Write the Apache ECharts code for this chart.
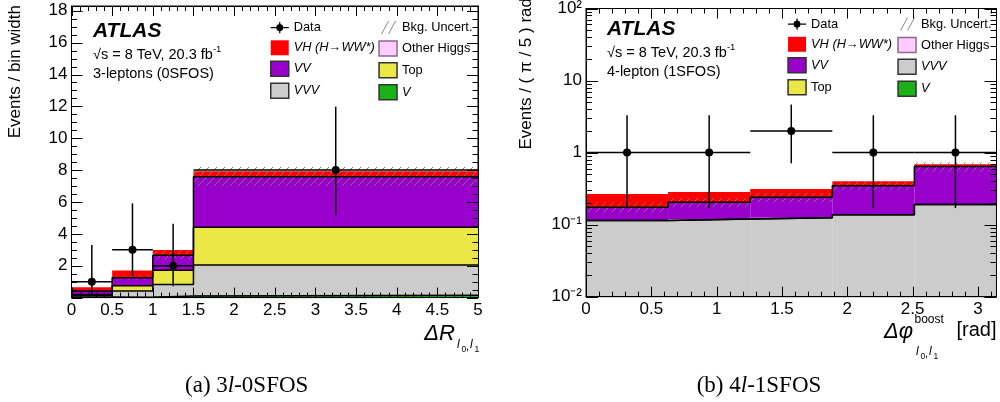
<!DOCTYPE html>
<html><head><meta charset="utf-8">
<script src="https://cdn.jsdelivr.net/npm/echarts@6/dist/echarts.min.js"></script>
<style>html,body{margin:0;padding:0;background:#fff}#c{width:1000px;height:402px}</style>
</head><body><div id="c"></div>
<script>
// ---------- Panel (a): 3l-0SFOS, Events / bin width vs ΔR ----------
const binEdgesA = [0, 0.5, 1, 1.5, 5];
const dataA   = [1, 3, 2, 8];
const dataLoA = [0.17, 1.37, 0.71, 5.18];
const dataHiA = [3.3, 5.92, 4.64, 11.98];
const vA          = [0.03, 0.02, 0.10, 0.15];
const vvvA        = [0.10, 0.39, 0.72, 1.90];
const topA        = [0.07, 0.33, 0.90, 2.36];
const vvA         = [0.22, 0.50, 0.93, 3.17];
const otherHiggsA = [0.01, 0.01, 0.01, 0.02];
const vhA         = [0.22, 0.45, 0.32, 0.33];
const uncA        = [0.05, 0.12, 0.25, 0.60];
const yTicksA = [2, 4, 6, 8, 10, 12, 14, 16, 18];
const xTicksA = [0, 0.5, 1, 1.5, 2, 2.5, 3, 3.5, 4, 4.5, 5];

// ---------- Panel (b): 4l-1SFOS, Events / (π/5) rad vs Δφ ----------
const binEdgesB = [0, 0.628, 1.257, 1.885, 2.513, 3.142];
const dataB   = [1, 1, 2, 1, 1];
const dataLoB = [0.17, 0.17, 0.71, 0.17, 0.17];
const dataHiB = [3.3, 3.3, 4.64, 3.3, 3.3];
const vB          = [0, 0, 0, 0, 0];
const vvvB        = [0.114, 0.120, 0.125, 0.137, 0.190];
const topB        = [0, 0, 0, 0, 0];
const vvB         = [0.060, 0.084, 0.115, 0.210, 0.450];
const otherHiggsB = [0, 0, 0, 0, 0];
const vhB         = [0.093, 0.080, 0.073, 0.053, 0.050];
const uncB        = [0.027, 0.030, 0.036, 0.045, 0.090];
const xTicksB = [0, 0.5, 1, 1.5, 2, 2.5, 3];
const yTicksB = [0.01, 0.1, 1, 10, 100];
const yTickLabelsB = { '-2': '10\u207B\u00B2', '-1': '10\u207B\u00B9', '0': '1', '1': '10', '2': '10\u00B2' };

const COL = {
  V: '#19b219', VVV: '#cccccc', Top: '#ebe845', VV: '#9900cc',
  OH: '#ffccff', VH: '#ff0000'
};
const NAMES = {
  V: 'V', VVV: 'VVV', Top: 'Top', VV: 'VV', OH: 'Other Higgs',
  VH: 'VH (H\u2192WW*)', Data: 'Data', Unc: 'Bkg. Uncert.'
};
const FONT = '"Liberation Sans", Arial, Helvetica, sans-serif';

function buildLayers(edges, comps, base) {
  const n = edges.length - 1;
  const cum = new Array(n).fill(0);
  return comps.map(vals => {
    const items = [];
    for (let i = 0; i < n; i++) {
      const lo = cum[i];
      cum[i] += vals[i];
      if (cum[i] > lo) items.push([edges[i], edges[i + 1], Math.max(lo, base), cum[i]]);
    }
    return { items: items, tops: cum.slice() };
  });
}

function rectItem(params, api) {
  const a = api.coord([api.value(0), api.value(3)]);
  const b = api.coord([api.value(1), api.value(2)]);
  return { type: 'rect', shape: { x: a[0], y: a[1], width: b[0] - a[0], height: b[1] - a[1] },
           style: { fill: api.visual('color') } };
}

function hatchItem(params, api) {
  const a = api.coord([api.value(0), api.value(3)]);
  const b = api.coord([api.value(1), api.value(2)]);
  const x0 = a[0], x1 = b[0], y0 = a[1], y1 = b[1];
  const step = 8, children = [];
  for (let c = Math.ceil((x0 + y0) / step) * step; c <= x1 + y1; c += step) {
    const xa = Math.max(x0, c - y1), xb = Math.min(x1, c - y0);
    if (xb > xa) children.push({ type: 'line', shape: { x1: xa, y1: c - xa, x2: xb, y2: c - xb },
                                  style: { stroke: '#7a7a7a', lineWidth: 1 } });
  }
  return { type: 'group', children: children };
}

function dataItem(params, api) {
  const c = api.coord([api.value(0), api.value(3)]);
  const l = api.coord([api.value(1), api.value(3)]);
  const r = api.coord([api.value(2), api.value(3)]);
  const lo = api.coord([api.value(0), api.value(4)]);
  const hi = api.coord([api.value(0), api.value(5)]);
  const st = { stroke: '#000', lineWidth: 1.5 };
  return { type: 'group', children: [
    { type: 'line', shape: { x1: l[0], y1: l[1], x2: r[0], y2: r[1] }, style: st },
    { type: 'line', shape: { x1: lo[0], y1: lo[1], x2: hi[0], y2: hi[1] }, style: st },
    { type: 'circle', shape: { cx: c[0], cy: c[1], r: 4 }, style: { fill: '#000' } }
  ] };
}

// ----- frame ticks (all four sides), drawn through the axes' scales -----
function linMinor(min, max, step, majors) {
  const out = [];
  for (let k = Math.ceil(min / step - 1e-9); k * step <= max + 1e-9; k++) {
    const v = Math.round(k * step * 1000) / 1000;
    if (!majors.some(m => Math.abs(m - v) < 1e-9)) out.push(v);
  }
  return out;
}
function logMinor(decades) {
  const out = [];
  for (let i = 0; i < decades.length - 1; i++) for (let k = 2; k <= 9; k++) out.push(decades[i] * k);
  return out;
}
function tickItem(params, api) {
  const a = api.coord([api.value(0), api.value(2)]);   // (x0, y0): bottom / left end
  const b = api.coord([api.value(1), api.value(3)]);   // (x1, y1): top / right end
  const major = api.value(4) === 1, isY = api.value(5) === 1;
  const st = { stroke: '#000', lineWidth: 1 };
  const L = isY ? (major ? api.value(6) : api.value(7)) : (major ? api.value(6) : api.value(7));
  if (!isY) {
    const x = Math.round(a[0]) + 0.5;
    return { type: 'group', children: [
      { type: 'line', shape: { x1: x, y1: a[1], x2: x, y2: a[1] - L }, style: st },
      { type: 'line', shape: { x1: x, y1: b[1], x2: x, y2: b[1] + L }, style: st } ] };
  }
  const y = Math.round(a[1]) + 0.5;
  return { type: 'group', children: [
    { type: 'line', shape: { x1: a[0], y1: y, x2: a[0] + L, y2: y }, style: st },
    { type: 'line', shape: { x1: b[0], y1: y, x2: b[0] - L, y2: y }, style: st } ] };
}
function tickSeries(xi, yi, xMin, xMax, yMin, yMax, xMajor, xMinor, yMajor, yMinor, lenX, lenY) {
  const items = [];
  xMajor.forEach(v => items.push([v, v, yMin, yMax, 1, 0, lenX[0], lenX[1]]));
  xMinor.forEach(v => items.push([v, v, yMin, yMax, 0, 0, lenX[0], lenX[1]]));
  yMajor.forEach(v => items.push([xMin, xMax, v, v, 1, 1, lenY[0], lenY[1]]));
  yMinor.forEach(v => items.push([xMin, xMax, v, v, 0, 1, lenY[0], lenY[1]]));
  return { type: 'custom', xAxisIndex: xi, yAxisIndex: yi, renderItem: tickItem,
    itemStyle: { color: '#000' }, data: items, encode: { x: [0, 1], y: [2, 3] }, z: 8, silent: true };
}

function panelSeries(edges, comps, unc, data, lo, hi, base, xi, yi) {
  const keys = ['V', 'VVV', 'Top', 'VV', 'OH', 'VH'];
  const layers = buildLayers(edges, comps, base);
  const n = edges.length - 1;
  const out = [];
  layers.forEach((L, k) => {
    out.push({ type: 'custom', name: NAMES[keys[k]], xAxisIndex: xi, yAxisIndex: yi,
      renderItem: rectItem, itemStyle: { color: COL[keys[k]] }, data: L.items,
      encode: { x: [0, 1], y: [2, 3] }, z: 2, silent: true });
  });
  const bkg = layers[4].tops;
  const uncItems = [];
  for (let i = 0; i < n; i++) uncItems.push([edges[i], edges[i + 1], bkg[i] - unc[i], bkg[i] + unc[i]]);
  out.push({ type: 'custom', name: NAMES.Unc, xAxisIndex: xi, yAxisIndex: yi, renderItem: hatchItem,
    itemStyle: { color: '#7a7a7a' }, data: uncItems, encode: { x: [0, 1], y: [2, 3] }, z: 3, silent: true });
  [0, 1, 2, 3].forEach(k => {
    const tops = layers[k].tops;
    if (tops.every(t => t <= base)) return;
    const pts = edges.map((e, i) => [e, Math.max(tops[Math.min(i, n - 1)], base)]);
    out.push({ type: 'line', step: 'end', xAxisIndex: xi, yAxisIndex: yi, data: pts, symbol: 'none',
      lineStyle: { color: '#000', width: 1.5 }, z: 4, silent: true });
  });
  const pts = [];
  for (let i = 0; i < n; i++) pts.push([(edges[i] + edges[i + 1]) / 2, edges[i], edges[i + 1], data[i], lo[i], hi[i]]);
  out.push({ type: 'custom', name: NAMES.Data, xAxisIndex: xi, yAxisIndex: yi, renderItem: dataItem,
    itemStyle: { color: '#000' }, data: pts, encode: { x: [0, 1, 2], y: [3, 4, 5] }, z: 5, silent: true });
  return out;
}

const isIn = (arr, v) => arr.some(t => Math.abs(t - v) < 1e-9);
const AX_LINE = { show: true, onZero: false, lineStyle: { color: '#000', width: 1 } };

function xAxisCfg(grid, pos, min, max, ticks) {
  return { type: 'value', gridIndex: grid, position: pos, min: min, max: max, interval: 0.5, z: 6,
    axisLine: AX_LINE, axisTick: { show: false }, minorTick: { show: false }, splitLine: { show: false },
    axisLabel: { show: pos === 'bottom', color: '#000', fontFamily: FONT, fontSize: 17, margin: 4,
      formatter: v => isIn(ticks, v) ? String(v) : '' } };
}
function yAxisLin(pos) {
  return { type: 'value', gridIndex: 0, position: pos, min: 0, max: 18.3, interval: 2, z: 6,
    axisLine: AX_LINE, axisTick: { show: false }, minorTick: { show: false }, splitLine: { show: false },
    axisLabel: { show: pos === 'left', color: '#000', fontFamily: FONT, fontSize: 17, margin: 4,
      formatter: v => isIn(yTicksA, v) ? String(v) : '' } };
}
function yAxisLog(pos) {
  return { type: 'log', logBase: 10, gridIndex: 1, position: pos, min: 0.01, max: 100, z: 6,
    axisLine: AX_LINE, axisTick: { show: false }, minorTick: { show: false }, splitLine: { show: false },
    axisLabel: { show: pos === 'left', color: '#000', fontFamily: FONT, fontSize: 17, margin: 4,
      formatter: v => yTickLabelsB[String(Math.round(Math.log10(v)))] || '' } };
}

function legendCfg(left, top, items) {
  return { left: left, top: top, orient: 'vertical', itemWidth: 18, itemHeight: 15, itemGap: 5.3,
    selectedMode: false, padding: 0,
    textStyle: { fontFamily: FONT, fontSize: 12.8, color: '#000', lineHeight: 15 },
    data: items };
}
const DATA_ICON = 'path://M0,0h0.01v0.01h-0.01Z M18,15h-0.01v-0.01h0.01Z M0,7H5.2V8.2H0Z M12.8,7H18V8.2H12.8Z M8.4,2H9.6V3.9H8.4Z M8.4,11.3H9.6V13.2H8.4Z M9,3.8L11.7,4.9L12.8,7.6L11.7,10.3L9,11.4L6.3,10.3L5.2,7.6L6.3,4.9Z';
const UNC_ICON = 'path://M0,0h0.01v0.01h-0.01Z M18,15h-0.01v-0.01h0.01Z M2,14L3,14L10,1L9,1Z M9,14L10,14L17,1L16,1Z';
function box(name, color, border, italic) {
  return { name: name, icon: 'rect', itemStyle: { color: color, borderColor: border || color, borderWidth: border ? 1.5 : 0 },
    textStyle: { fontStyle: italic ? 'italic' : 'normal' } };
}
const L_DATA = { name: NAMES.Data, icon: DATA_ICON, itemStyle: { color: '#000', borderWidth: 0 } };
const L_UNC = { name: NAMES.Unc, icon: UNC_ICON, itemStyle: { color: '#8a8a8a', borderWidth: 0 } };
const L_VH = box(NAMES.VH, COL.VH, null, true);
const L_VV = box(NAMES.VV, COL.VV, '#333', true);
const L_VVV = box(NAMES.VVV, COL.VVV, '#333', true);
const L_OH = box(NAMES.OH, COL.OH, '#8a6a8a', false);
const L_TOP = box(NAMES.Top, COL.Top, '#333', false);
const L_V = box(NAMES.V, COL.V, '#333', true);

function txt(x, y, text, size, opts) {
  return Object.assign({ type: 'text', x: x, y: y, z: 20, silent: true,
    style: Object.assign({ text: text, fontFamily: FONT, fontSize: size, fill: '#000',
      align: 'left', verticalAlign: 'middle' }, (opts && opts.style) || {}) },
    (opts && opts.el) || {});
}
function sqrtLine(x, y) {
  return { type: 'text', x: x, y: y, z: 20, silent: true, style: {
    text: '{n|\u221As = 8 TeV, 20.3 fb}{s|-1}', align: 'left', verticalAlign: 'middle',
    rich: { n: { fontFamily: FONT, fontSize: 14.5, fill: '#000', lineHeight: 18, verticalAlign: 'bottom' },
            s: { fontFamily: FONT, fontSize: 9.5, fill: '#000', lineHeight: 10, verticalAlign: 'top' } } } };
}
function caption(x, y, a, b, c) {
  return { type: 'text', x: x, y: y, z: 20, silent: true, style: {
    text: '{n|' + a + '}{i|' + b + '}{n|' + c + '}', align: 'center', verticalAlign: 'middle',
    rich: { n: { fontFamily: '"Liberation Serif", "Times New Roman", serif', fontSize: 23, fill: '#000' },
            i: { fontFamily: '"Liberation Serif", "Times New Roman", serif', fontSize: 23, fontStyle: 'italic', fill: '#000' } } } };
}

const texts = [
  txt(93, 31, 'ATLAS', 21, { style: { fontWeight: 'bold', fontStyle: 'italic' } }),
  sqrtLine(93, 53),
  txt(93, 73.5, '3-leptons (0SFOS)', 14.5),
  txt(15, 5, 'Events / bin width', 17, { el: { rotation: Math.PI / 2 }, style: { align: 'right' } }),
  txt(455, 334, '\u0394R', 22, { style: { fontStyle: 'italic', align: 'right' } }),
  txt(457, 345, 'l', 12, { style: { fontStyle: 'italic' } }),
  txt(461.5, 350, '0', 8.5),
  txt(466, 347, ',', 11),
  txt(470, 345, 'l', 12, { style: { fontStyle: 'italic' } }),
  txt(474.5, 350, '1', 8.5),
  caption(246.7, 386, '(a) 3', 'l', '-0SFOS'),
  txt(607, 29, 'ATLAS', 21, { style: { fontWeight: 'bold', fontStyle: 'italic' } }),
  sqrtLine(607, 51),
  txt(607, 72, '4-lepton (1SFOS)', 14.5),
  txt(526, -2, 'Events / ( \u03C0 / 5 ) rad', 17, { el: { rotation: Math.PI / 2 }, style: { align: 'right' } }),
  txt(913, 332, '\u0394\u03C6', 22, { style: { fontStyle: 'italic', align: 'right' } }),
  txt(914.5, 320, 'boost', 12),
  txt(916, 352, 'l', 12, { style: { fontStyle: 'italic' } }),
  txt(920.5, 357, '0', 8.5),
  txt(925, 354, ',', 11),
  txt(929, 352, 'l', 12, { style: { fontStyle: 'italic' } }),
  txt(933.5, 357, '1', 8.5),
  txt(996.5, 330, '[rad]', 20, { style: { align: 'right' } }),
  caption(759, 386, '(b) 4', 'l', '-1SFOS')
];

const chart = echarts.init(document.getElementById('c'), null, { renderer: 'canvas' });
chart.setOption({
  animation: false,
  backgroundColor: '#fff',
  grid: [
    { left: 71.5, top: 6, width: 406.5, height: 291.6, show: true, borderColor: '#000', borderWidth: 1, backgroundColor: 'transparent' },
    { left: 586, top: 6.7, width: 410.5, height: 290, show: true, borderColor: '#000', borderWidth: 1, backgroundColor: 'transparent' }
  ],
  xAxis: [
    xAxisCfg(0, 'bottom', 0, 5, xTicksA),
    xAxisCfg(0, 'top', 0, 5, xTicksA),
    xAxisCfg(1, 'bottom', 0, Math.PI, xTicksB),
    xAxisCfg(1, 'top', 0, Math.PI, xTicksB)
  ],
  yAxis: [ yAxisLin('left'), yAxisLin('right'), yAxisLog('left'), yAxisLog('right') ],
  legend: [
    legendCfg(270, 20, [L_DATA, L_VH, L_VV, L_VVV]),
    legendCfg(378.3, 20, [L_UNC, L_OH, L_TOP, L_V]),
    legendCfg(787.3, 16.5, [L_DATA, L_VH, L_VV, L_TOP]),
    legendCfg(897.3, 16.5, [L_UNC, L_OH, L_VVV, L_V])
  ],
  series: [].concat(
    panelSeries(binEdgesA, [vA, vvvA, topA, vvA, otherHiggsA, vhA], uncA, dataA, dataLoA, dataHiA, 0, 0, 0),
    panelSeries(binEdgesB, [vB, vvvB, topB, vvB, otherHiggsB, vhB], uncB, dataB, dataLoB, dataHiB, 0.01, 2, 2),
    [
      tickSeries(0, 0, 0, 5, 0, 18.3, xTicksA, linMinor(0, 5, 0.1, xTicksA),
                 [0].concat(yTicksA), linMinor(0, 18.3, 0.5, [0].concat(yTicksA)), [10, 5], [11, 5.5]),
      tickSeries(2, 2, 0, Math.PI, 0.01, 100, xTicksB, linMinor(0, Math.PI, 0.1, xTicksB),
                 yTicksB, logMinor(yTicksB), [10, 5], [12, 6])
    ]
  ),
  graphic: texts
});
</script>
</body></html>
